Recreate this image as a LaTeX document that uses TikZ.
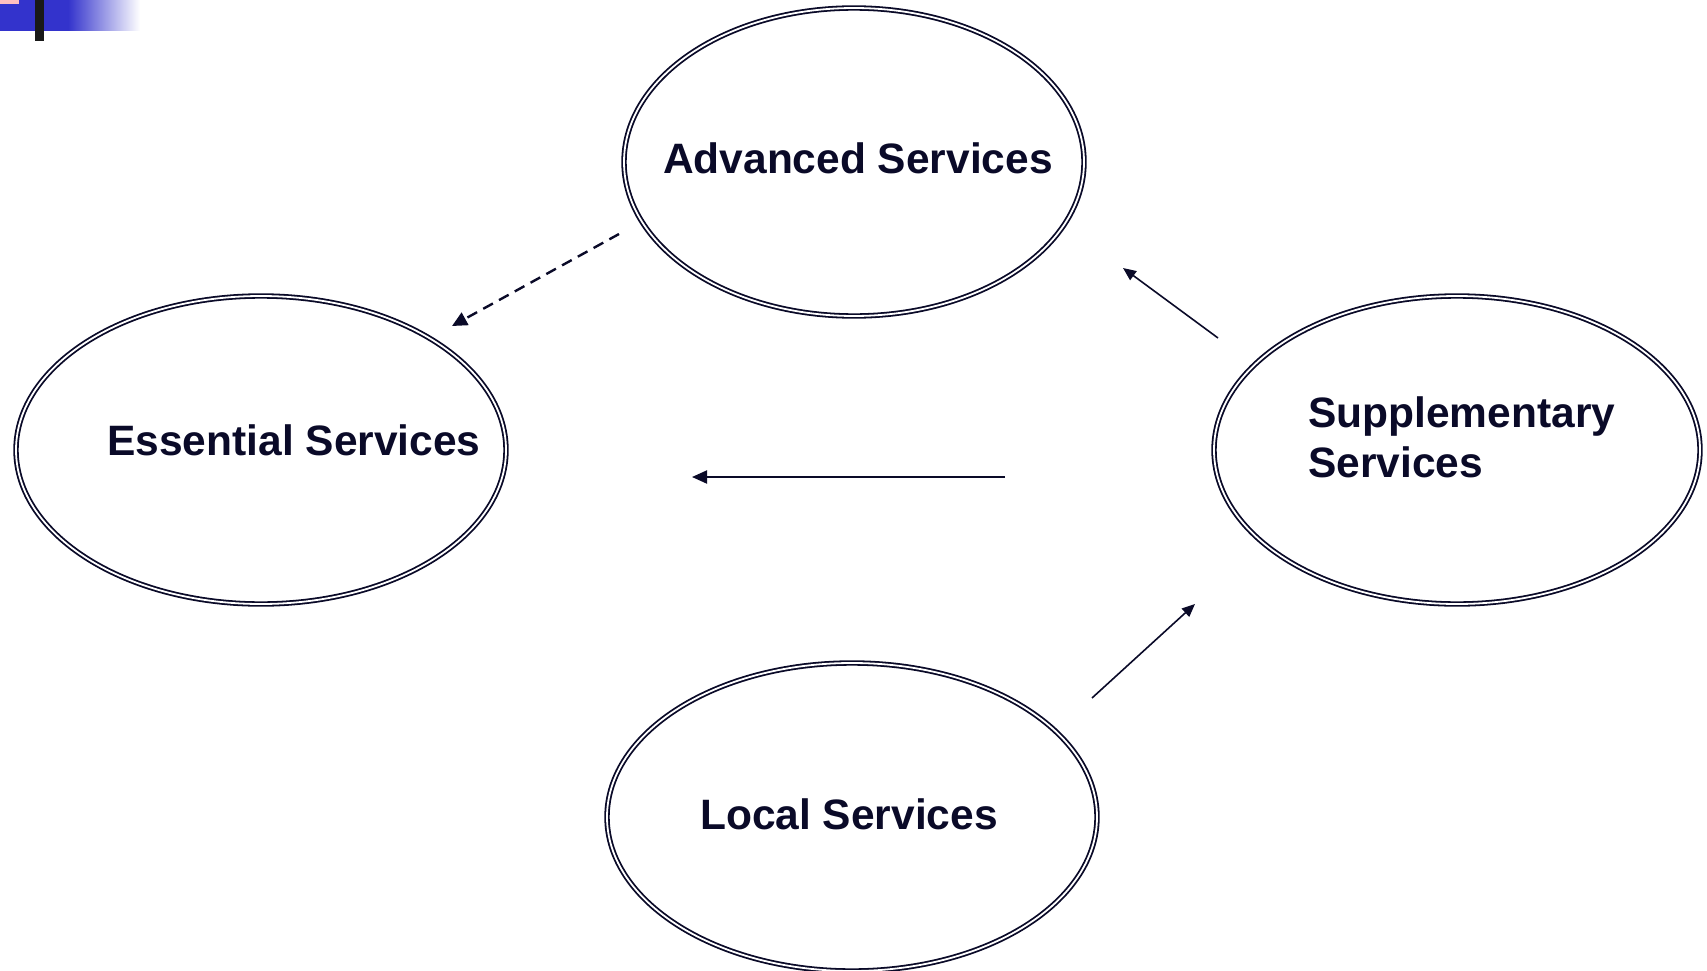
\documentclass[tikz,border=0pt]{standalone}
\usepackage{fontspec}
\setmainfont{Liberation Sans}
\usetikzlibrary{arrows.meta,shapes.geometric}
\definecolor{ink}{RGB}{10,10,40}
\definecolor{barblue}{RGB}{51,51,204}
\definecolor{barpink}{RGB}{255,192,192}
\tikzset{
  oval/.style={ellipse, draw=ink, double=white, line width=1.8pt, double distance=1.8pt, inner sep=0pt},
  lbl/.style={text=ink, font=\fontsize{42.5}{50}\selectfont\bfseries, inner sep=0pt},
  conn/.style={draw=ink, line width=1.6pt, -{Triangle[length=13pt,width=11pt]}},
}
\begin{document}
\begin{tikzpicture}[x=1pt,y=-1pt]
\useasboundingbox (0,0) rectangle (1707,971);
% corner decoration
\fill[barblue] (0,0) rectangle (69,31);
\shade[left color=barblue, right color=white] (68,0) rectangle (140,31);
\fill[barpink] (0,0) rectangle (19,4);
\fill[black!90] (35,0) rectangle (44,41);
% ellipses
\node[oval, minimum width=460pt, minimum height=308pt] (adv) at (854,162) {};
\node[oval, minimum width=490pt, minimum height=308pt] (ess) at (261,450) {};
\node[oval, minimum width=486pt, minimum height=308pt] (sup) at (1457,450) {};
\node[oval, minimum width=490pt, minimum height=308pt] (loc) at (852,817) {};
% labels
\node[lbl, anchor=base] (advl) at (858,173) {Advanced Services};
\node[lbl, anchor=base] (essl) at (294,455) {Essential Services};
\node[lbl, anchor=base west] (supl) at (1308,427) {Supplementary};
\node[lbl, anchor=base west] (supl2) at (1308,477) {Services};
\node[lbl, anchor=base] (locl) at (849,829) {Local Services};
% connector endpoints
\coordinate (d1) at (619,234);
\coordinate (d2) at (452,326);
\coordinate (h1) at (1005,477);
\coordinate (h2) at (692,477);
\coordinate (s1) at (1218,338);
\coordinate (s2) at (1123,268);
\coordinate (l1) at (1092,698);
\coordinate (l2) at (1195,604);
% connectors
\draw[conn, line width=2.4pt, dash pattern=on 11pt off 7pt, -{Triangle[length=15pt,width=14pt]}] (d1) -- (d2);
\draw[conn, line width=2pt, -{Triangle[length=15pt,width=13pt]}] (h1) -- (h2);
\draw[conn] (s1) -- (s2);
\draw[conn] (l1) -- (l2);
\end{tikzpicture}
\end{document}
